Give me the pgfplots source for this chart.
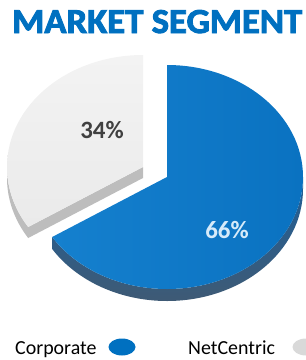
\documentclass[border=0pt]{standalone}
\usepackage{pgfplots}
\pgfplotsset{compat=1.18}
\usepackage{pgfplotstable}
\usetikzlibrary{calc}
\usepackage{fontspec}
\setmainfont{Carlito}
\newfontfamily\titlefont[FakeBold=2.5]{Carlito Bold}
\usepackage{graphicx}
\definecolor{titleblue}{HTML}{0070C0}
\definecolor{segblue}{HTML}{0A72C1}
\definecolor{segbluelight}{HTML}{1580CE}
\definecolor{segblueside}{HTML}{1F5F98}
\definecolor{segbluesidedark}{HTML}{3F5A74}
\definecolor{seggrey}{HTML}{EAEAEA}
\definecolor{seggreylight}{HTML}{F3F3F3}
\definecolor{seggreyside}{HTML}{BDBDBD}
\definecolor{legendgrey}{HTML}{D9D9D9}
\definecolor{labelblue}{HTML}{D6EBFA}
\definecolor{labelgrey}{HTML}{404040}

\pgfplotstableread{
segment share
Corporate 66
NetCentric 34
}\shares

\begin{document}
\begin{tikzpicture}
\pgfplotstablegetelem{0}{share}\of\shares
\let\corp\pgfplotsretval
\pgfmathsetmacro\cut{90-3.6*\corp}
\pgfmathsetmacro\greyend{\cut+360}
\path[use as bounding box] (0,0) rectangle (306bp,360bp);
\begin{axis}[at={(0,0)}, anchor=south west, scale only axis,
  width=306bp, height=360bp, xmin=0, xmax=306, ymin=0, ymax=360,
  y dir=reverse, hide axis, clip=false]
% title
\node[anchor=base west, inner sep=0, text=titleblue] at (axis cs:12,33)
  {\resizebox{290bp}{23bp}{\titlefont MARKET SEGMENT}};
% grey slice (exploded)
\fill[seggreyside] (axis cs:143,167) -- ++(\greyend:136bp and 112bp) -- ++(0,-11bp) -- ($(axis cs:143,167)+(0,-11bp)$) -- cycle;
\fill[seggreyside] (axis cs:143,167) ++(180:136bp and 112bp) arc[start angle=180, end angle=\greyend, x radius=136bp, y radius=112bp] -- ++(0,-11bp) arc[start angle=\greyend, end angle=180, x radius=136bp, y radius=112bp] -- cycle;
\shade[top color=seggreylight, bottom color=seggrey] (axis cs:143,167) -- ++(90:136bp and 112bp) arc[start angle=90, end angle=\greyend, x radius=136bp, y radius=112bp] -- cycle;
% blue slice
\shade[top color=segblueside, bottom color=segbluesidedark] (axis cs:167,177) ++(\cut:136bp and 112bp) arc[start angle=\cut, end angle=0, x radius=136bp, y radius=112bp] -- ++(0,-12bp) arc[start angle=0, end angle=\cut, x radius=136bp, y radius=112bp] -- cycle;
\shade[left color=segbluelight, right color=segblue] (axis cs:167,177) -- ++(90:136bp and 112bp) arc[start angle=90, end angle=\cut, x radius=136bp, y radius=112bp] -- cycle;
% labels
\node[text=labelgrey, font=\bfseries\fontsize{25}{25}\selectfont] at (axis cs:102,130) {34\%};
\node[text=labelblue, font=\bfseries\fontsize{25}{25}\selectfont] at (axis cs:227,230) {66\%};
% legend
\node[anchor=base west, inner sep=0, font=\fontsize{20}{20}\selectfont] at (axis cs:15,354) {Corporate};
\fill[titleblue] (axis cs:122,347) ellipse[x radius=13.5bp, y radius=8.5bp];
\node[anchor=base west, inner sep=0, font=\fontsize{20}{20}\selectfont] at (axis cs:188,354) {NetCentric};
\fill[legendgrey] (axis cs:306,347) ellipse[x radius=13.5bp, y radius=8.5bp];
\end{axis}
\end{tikzpicture}
\end{document}
